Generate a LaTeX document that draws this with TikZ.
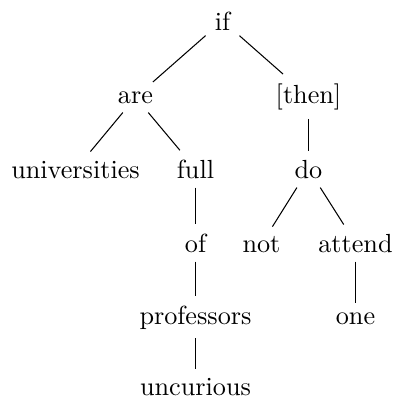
\documentclass[tikz,border=0pt]{standalone}
\usepackage{tikz}

\begin{document}
\begin{tikzpicture}[
  x=0.3817pt, y=-0.3817pt,
  word/.style={anchor=base},
  link/.style={draw}
]
\useasboundingbox (0,0) rectangle (395,398);
% level 0 and 1
\node[word] (if)    at (222.5,30)  {if};
\node[word] (are)   at (135.5,103) {are};
\node[word] (then)  at (308.5,103) {[then]};
% level 2
\node[word] (univ)  at (75.5,178)  {universities};
\node[word] (full)  at (195.5,178) {full};
\node[word] (do)    at (308.5,178) {do};
% level 3
\node[word] (of)     at (195.5,252) {of};
\node[word] (not)    at (261.5,252) {not};
\node[word] (attend) at (355.5,252) {attend};
% level 4 and 5
\node[word] (prof)  at (195.5,324) {professors};
\node[word] (one)   at (355.5,324) {one};
\node[word] (uncur) at (195.5,395) {uncurious};

\draw[link] (if) -- (are);
\draw[link] (if) -- (then);
\draw[link] (are) -- (univ);
\draw[link] (are) -- (full);
\draw[link] (then) -- (do);
\draw[link] (full) -- (of);
\draw[link] (do) -- (not);
\draw[link] (do) -- (attend);
\draw[link] (of) -- (prof);
\draw[link] (attend) -- (one);
\draw[link] (prof) -- (uncur);
\end{tikzpicture}
\end{document}
